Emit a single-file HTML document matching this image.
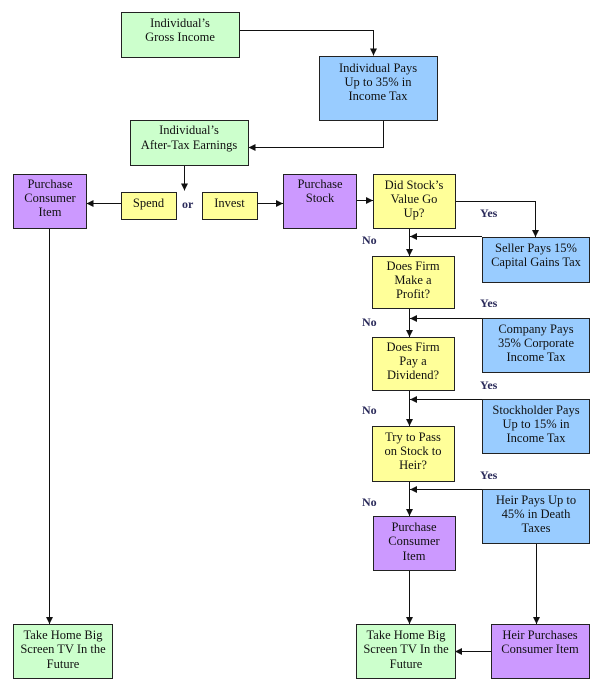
<!DOCTYPE html>
<html>
<head>
<meta charset="utf-8">
<style>
html,body{margin:0;padding:0;background:#fff;}
svg{display:block;}
.t{font-family:"Liberation Serif",serif;font-size:12.5px;fill:#111;text-anchor:middle;}
.l{font-family:"Liberation Serif",serif;font-size:12px;font-weight:bold;fill:#2a2a5a;}
.g{fill:#ccffcc;stroke:#222;stroke-width:1;}
.b{fill:#99ccff;stroke:#222;stroke-width:1;}
.p{fill:#cc99ff;stroke:#222;stroke-width:1;}
.y{fill:#ffff99;stroke:#222;stroke-width:1;}
.ln{stroke:#111;stroke-width:1;fill:none;}
</style>
</head>
<body>
<svg width="600" height="694" viewBox="0 0 600 694" xmlns="http://www.w3.org/2000/svg">
<defs>
<marker id="a" viewBox="0 0 8 8" refX="8" refY="4" markerWidth="7" markerHeight="7" orient="auto" markerUnits="userSpaceOnUse">
<path d="M0,0 L8,4 L0,8 z" fill="#111"/>
</marker>
</defs>

<!-- connectors -->
<polyline class="ln" points="239.5,30.5 373.5,30.5 373.5,55.5" marker-end="url(#a)"/>
<polyline class="ln" points="383.5,120.5 383.5,147.5 248.5,147.5" marker-end="url(#a)"/>
<line class="ln" x1="184.5" y1="165.5" x2="184.5" y2="190.5" marker-end="url(#a)"/>
<line class="ln" x1="121" y1="203.5" x2="86.5" y2="203.5" marker-end="url(#a)"/>
<line class="ln" x1="257" y1="203.5" x2="283" y2="203.5" marker-end="url(#a)"/>
<line class="ln" x1="356" y1="200.5" x2="373" y2="200.5" marker-end="url(#a)"/>
<polyline class="ln" points="455,201.5 535.5,201.5 535.5,237" marker-end="url(#a)"/>
<line class="ln" x1="409.5" y1="228" x2="409.5" y2="256" marker-end="url(#a)"/>
<line class="ln" x1="482" y1="236.5" x2="410" y2="236.5" marker-end="url(#a)"/>
<line class="ln" x1="409.5" y1="308" x2="409.5" y2="337" marker-end="url(#a)"/>
<line class="ln" x1="482" y1="318.5" x2="410" y2="318.5" marker-end="url(#a)"/>
<line class="ln" x1="409.5" y1="390" x2="409.5" y2="426" marker-end="url(#a)"/>
<line class="ln" x1="482" y1="399.5" x2="410" y2="399.5" marker-end="url(#a)"/>
<line class="ln" x1="409.5" y1="481" x2="409.5" y2="516" marker-end="url(#a)"/>
<line class="ln" x1="482" y1="489.5" x2="410" y2="489.5" marker-end="url(#a)"/>
<line class="ln" x1="409.5" y1="570" x2="409.5" y2="624" marker-end="url(#a)"/>
<line class="ln" x1="536.5" y1="543" x2="536.5" y2="624" marker-end="url(#a)"/>
<line class="ln" x1="491" y1="651.5" x2="455" y2="651.5" marker-end="url(#a)"/>
<line class="ln" x1="49.5" y1="228" x2="49.5" y2="624" marker-end="url(#a)"/>

<!-- boxes -->
<rect class="g" x="121.5" y="12.5" width="118" height="45"/>
<text class="t" x="180" y="27">Individual’s</text>
<text class="t" x="180" y="41">Gross Income</text>

<rect class="b" x="319.5" y="56.5" width="118" height="64"/>
<text class="t" x="378" y="72">Individual Pays</text>
<text class="t" x="378" y="86">Up to 35% in</text>
<text class="t" x="378" y="100">Income Tax</text>

<rect class="g" x="130.5" y="120.5" width="118" height="45"/>
<text class="t" x="189" y="134">Individual’s</text>
<text class="t" x="189" y="149">After-Tax Earnings</text>

<rect class="p" x="13.5" y="174.5" width="73" height="54"/>
<text class="t" x="50" y="188">Purchase</text>
<text class="t" x="50" y="202">Consumer</text>
<text class="t" x="50" y="216">Item</text>

<rect class="y" x="121.5" y="192.5" width="55" height="27"/>
<text class="t" x="148.5" y="207">Spend</text>
<text class="l" x="182" y="208">or</text>
<rect class="y" x="202.5" y="192.5" width="55" height="27"/>
<text class="t" x="229.5" y="207">Invest</text>

<rect class="p" x="283.5" y="174.5" width="73" height="54"/>
<text class="t" x="320" y="188">Purchase</text>
<text class="t" x="320" y="202">Stock</text>

<rect class="y" x="373.5" y="174.5" width="82" height="54"/>
<text class="t" x="414" y="189">Did Stock’s</text>
<text class="t" x="414" y="203">Value Go</text>
<text class="t" x="414" y="217">Up?</text>

<rect class="b" x="482.5" y="237.5" width="107" height="45"/>
<text class="t" x="536" y="252">Seller Pays 15%</text>
<text class="t" x="536" y="266">Capital Gains Tax</text>

<rect class="y" x="372.5" y="256.5" width="82" height="52"/>
<text class="t" x="413" y="270">Does Firm</text>
<text class="t" x="413" y="284">Make a</text>
<text class="t" x="413" y="298">Profit?</text>

<rect class="b" x="482.5" y="318.5" width="107" height="54"/>
<text class="t" x="536" y="333">Company Pays</text>
<text class="t" x="536" y="347">35% Corporate</text>
<text class="t" x="536" y="361">Income Tax</text>

<rect class="y" x="372.5" y="337.5" width="82" height="53"/>
<text class="t" x="413" y="351">Does Firm</text>
<text class="t" x="413" y="365">Pay a</text>
<text class="t" x="413" y="379">Dividend?</text>

<rect class="b" x="482.5" y="399.5" width="107" height="54"/>
<text class="t" x="536" y="414">Stockholder Pays</text>
<text class="t" x="536" y="428">Up to 15% in</text>
<text class="t" x="536" y="442">Income Tax</text>

<rect class="y" x="372.5" y="426.5" width="82" height="55"/>
<text class="t" x="413" y="441">Try to Pass</text>
<text class="t" x="413" y="455">on Stock to</text>
<text class="t" x="413" y="469">Heir?</text>

<rect class="b" x="482.5" y="489.5" width="107" height="54"/>
<text class="t" x="536" y="504">Heir Pays Up to</text>
<text class="t" x="536" y="518">45% in Death</text>
<text class="t" x="536" y="532">Taxes</text>

<rect class="p" x="373.5" y="516.5" width="82" height="54"/>
<text class="t" x="414" y="531">Purchase</text>
<text class="t" x="414" y="545">Consumer</text>
<text class="t" x="414" y="560">Item</text>

<rect class="g" x="356.5" y="624.5" width="99" height="54"/>
<text class="t" x="406" y="639">Take Home Big</text>
<text class="t" x="406" y="653">Screen TV In the</text>
<text class="t" x="406" y="668">Future</text>

<rect class="p" x="491.5" y="624.5" width="98" height="54"/>
<text class="t" x="540" y="639">Heir Purchases</text>
<text class="t" x="540" y="653">Consumer Item</text>

<rect class="g" x="13.5" y="624.5" width="99" height="54"/>
<text class="t" x="63" y="639">Take Home Big</text>
<text class="t" x="63" y="653">Screen TV In the</text>
<text class="t" x="63" y="668">Future</text>

<!-- labels -->
<text class="l" x="480" y="217">Yes</text>
<text class="l" x="480" y="307">Yes</text>
<text class="l" x="480" y="389">Yes</text>
<text class="l" x="480" y="479">Yes</text>
<text class="l" x="362" y="244">No</text>
<text class="l" x="362" y="326">No</text>
<text class="l" x="362" y="414">No</text>
<text class="l" x="362" y="506">No</text>
</svg>
</body>
</html>
